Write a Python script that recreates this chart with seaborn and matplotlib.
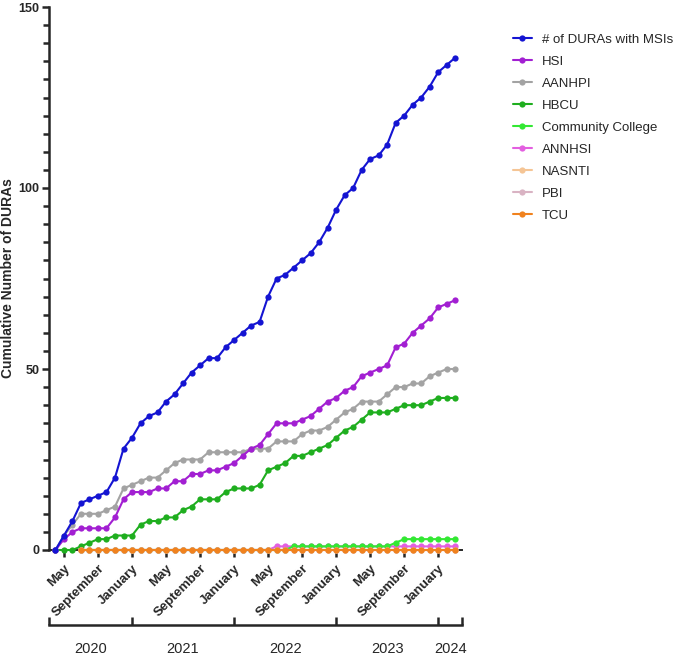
import numpy as np
import pandas as pd
import matplotlib
matplotlib.use("Agg")
import matplotlib.pyplot as plt
import seaborn as sns
from matplotlib.ticker import MultipleLocator, FixedLocator

sns.set_style("ticks")
plt.rcParams["font.family"] = ["Liberation Sans", "DejaVu Sans"]

# months from April 2020 to March 2024 (48 monthly points)
months = pd.date_range("2020-04-01", "2024-03-01", freq="MS")
n = len(months)
nan3 = [np.nan] * 3

duras_msi = [0, 4, 8, 13, 14, 15, 16, 20, 28, 31, 35, 37, 38, 41, 43, 46, 49, 51, 53, 53,
             56, 58, 60, 62, 63, 70, 75, 76, 78, 80, 82, 85, 89, 94, 98, 100, 105, 108, 109, 112,
             118, 120, 123, 125, 128, 132, 134, 136]
hsi = [0, 3, 5, 6, 6, 6, 6, 9, 14, 16, 16, 16, 17, 17, 19, 19, 21, 21, 22, 22,
       23, 24, 26, 28, 29, 32, 35, 35, 35, 36, 37, 39, 41, 42, 44, 45, 48, 49, 50, 51,
       56, 57, 60, 62, 64, 67, 68, 69]
aanhpi = [0, 4, 7, 10, 10, 10, 11, 12, 17, 18, 19, 20, 20, 22, 24, 25, 25, 25, 27, 27,
          27, 27, 27, 28, 28, 28, 30, 30, 30, 32, 33, 33, 34, 36, 38, 39, 41, 41, 41, 43,
          45, 45, 46, 46, 48, 49, 50, 50]
hbcu = [0, 0, 0, 1, 2, 3, 3, 4, 4, 4, 7, 8, 8, 9, 9, 11, 12, 14, 14, 14,
        16, 17, 17, 17, 18, 22, 23, 24, 26, 26, 27, 28, 29, 31, 33, 34, 36, 38, 38, 38,
        39, 40, 40, 40, 41, 42, 42, 42]
community_college = nan3 + [0] * 25 + [1] * 12 + [2] + [3] * 7
annhsi = nan3 + [0] * 23 + [1] * 22
nasnti = nan3 + [0] * 45
pbi = nan3 + [0] * 45
tcu = nan3 + [0] * 45

series = {
    "# of DURAs with MSIs": duras_msi,
    "HSI": hsi,
    "AANHPI": aanhpi,
    "HBCU": hbcu,
    "Community College": community_college,
    "ANNHSI": annhsi,
    "NASNTI": nasnti,
    "PBI": pbi,
    "TCU": tcu,
}
colors = {
    "# of DURAs with MSIs": "#1414d2",
    "HSI": "#a21fd2",
    "AANHPI": "#a3a3a3",
    "HBCU": "#1fae1f",
    "Community College": "#33e833",
    "ANNHSI": "#e35fe0",
    "NASNTI": "#f5c595",
    "PBI": "#d9b3c3",
    "TCU": "#f0821e",
}
zorders = {"# of DURAs with MSIs": 9, "HSI": 8, "AANHPI": 7, "HBCU": 6,
           "Community College": 5, "ANNHSI": 4, "NASNTI": 10, "PBI": 11, "TCU": 12}

df = pd.DataFrame({"idx": np.arange(n)})
for k, v in series.items():
    df[k] = v

fig = plt.figure(figsize=(6.79, 6.57), dpi=100)
ax = fig.add_axes([49 / 679, 107 / 657, 413 / 679, 543 / 657])

for name in series:
    sns.lineplot(data=df, x="idx", y=name, ax=ax, color=colors[name], marker="o",
                 markersize=4.5, markeredgewidth=0, linewidth=1.5, label=name,
                 zorder=zorders[name], clip_on=False)

ax.set_xlim(-0.76, 47.8)
ax.set_ylim(0, 150)
sns.despine(ax=ax)
ax.spines["left"].set_linewidth(1.8)
ax.spines["bottom"].set_linewidth(1.4)

# y axis
ax.yaxis.set_major_locator(MultipleLocator(50))
ax.yaxis.set_minor_locator(MultipleLocator(5))
ax.tick_params(axis="y", which="major", length=5, width=1.8, labelsize=9, pad=2)
ax.tick_params(axis="y", which="minor", length=4, width=1.8)
for t in ax.get_yticklabels():
    t.set_fontweight("bold")
ax.set_ylabel("Cumulative Number of DURAs", fontsize=10, fontweight="bold", labelpad=2)

# month ticks
month_pos = [i for i, m in enumerate(months) if m.month in (1, 5, 9)]
month_lab = [months[i].strftime("%B") for i in month_pos]
ax.set_xticks(month_pos)
ax.set_xticklabels(month_lab, rotation=45, ha="right", rotation_mode="anchor",
                   fontsize=9.5, fontweight="bold")
ax.tick_params(axis="x", length=5, width=1.8, pad=4)
ax.set_xlabel("")

# year axis below the months
year_edges = [-0.76] + [i for i, m in enumerate(months) if m.month == 1] + [47.8]
year_mid = [(a + b) / 2 for a, b in zip(year_edges[:-1], year_edges[1:])]
year_lab = ["2020", "2021", "2022", "2023", "2024"]
sec = ax.secondary_xaxis(-0.138)
sec.spines["bottom"].set_linewidth(1.8)
sec.xaxis.set_major_locator(FixedLocator(year_edges))
sec.xaxis.set_major_formatter(plt.NullFormatter())
sec.set_xticks(year_mid, year_lab, minor=True)
sec.tick_params(axis="x", which="major", direction="in", length=6, width=1.8)
sec.tick_params(axis="x", which="minor", length=0, pad=12, labelsize=10.5)

leg = ax.legend(loc="upper left", bbox_to_anchor=(1.095, 0.973), frameon=False,
                fontsize=9.5, handlelength=1.4, handletextpad=0.8, labelspacing=0.74)

fig.savefig("out.png", dpi=100)
